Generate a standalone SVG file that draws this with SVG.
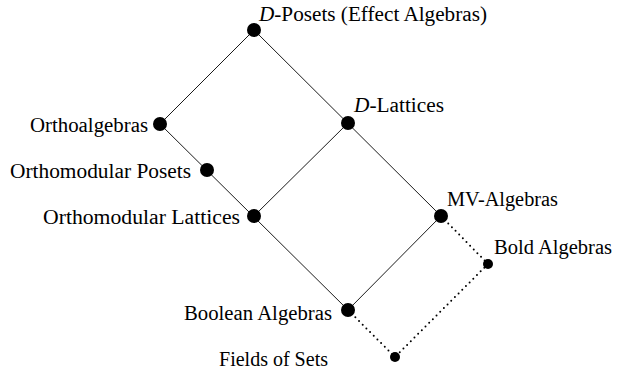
<svg xmlns="http://www.w3.org/2000/svg" width="619" height="374" viewBox="0 0 619 374">
<style>
text{font-family:"Liberation Serif","Times New Roman",serif;font-size:20px;fill:#000}
.e{stroke:#000;stroke-width:0.9;fill:none}
.d{stroke:#000;stroke-width:2;fill:none;stroke-dasharray:0 5.2;stroke-linecap:round}
.n{fill:#000}
</style>
<rect width="619" height="374" fill="#fff"/>
<g id="connectors">
<line class="e" x1="254" y1="30" x2="160" y2="124"/>
<line class="e" x1="254" y1="30" x2="441" y2="216"/>
<line class="e" x1="160" y1="124" x2="348" y2="310"/>
<line class="e" x1="348" y1="123" x2="254" y2="216"/>
<line class="e" x1="441" y1="216" x2="348" y2="310"/>
<line class="d" x1="441" y1="216" x2="488" y2="264"/>
<line class="d" x1="488" y1="264" x2="395" y2="357"/>
<line class="d" x1="348" y1="310" x2="395" y2="357"/>
</g>
<g id="dposets"><circle class="n" cx="254" cy="30" r="7"/><text x="259" y="21" textLength="228" lengthAdjust="spacingAndGlyphs"><tspan font-style="italic">D</tspan>-Posets (Effect Algebras)</text></g>
<g id="orthoalgebras"><circle class="n" cx="160" cy="124" r="7"/><text x="30" y="132" textLength="118" lengthAdjust="spacingAndGlyphs">Orthoalgebras</text></g>
<g id="dlattices"><circle class="n" cx="348" cy="123" r="7"/><text x="354" y="112" textLength="90" lengthAdjust="spacingAndGlyphs"><tspan font-style="italic">D</tspan>-Lattices</text></g>
<g id="omposets"><circle class="n" cx="207" cy="170" r="7"/><text x="10" y="178" textLength="181" lengthAdjust="spacingAndGlyphs">Orthomodular Posets</text></g>
<g id="omlattices"><circle class="n" cx="254" cy="216" r="7"/><text x="43" y="224" textLength="197" lengthAdjust="spacingAndGlyphs">Orthomodular Lattices</text></g>
<g id="mv"><circle class="n" cx="441" cy="216" r="7"/><text x="447" y="206" textLength="111" lengthAdjust="spacingAndGlyphs">MV-Algebras</text></g>
<g id="bold"><circle class="n" cx="488" cy="264" r="5"/><text x="494" y="254" textLength="118" lengthAdjust="spacingAndGlyphs">Bold Algebras</text></g>
<g id="boolean"><circle class="n" cx="348" cy="310" r="7"/><text x="184" y="320" textLength="148" lengthAdjust="spacingAndGlyphs">Boolean Algebras</text></g>
<g id="fields"><circle class="n" cx="395" cy="357" r="5"/><text x="219" y="366" textLength="109" lengthAdjust="spacingAndGlyphs">Fields of Sets</text></g>
</svg>
